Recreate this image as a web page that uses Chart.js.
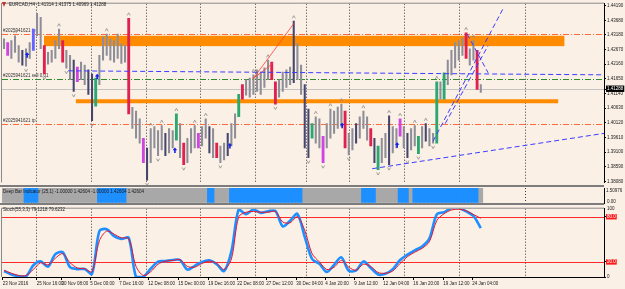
<!DOCTYPE html>
<html>
<head>
<meta charset="utf-8">
<title>EURCAD,H4</title>
<script src="https://cdn.jsdelivr.net/npm/chart.js@4.4.1/dist/chart.umd.min.js"></script>
<style>
  html, body { margin: 0; padding: 0; background: #faf0e6; }
  #wrap { position: relative; width: 625px; height: 289px; overflow: hidden; background: #faf0e6; }
  #wrap canvas { position: absolute; left: 0; }
  .txt { position: absolute; font: 4.5px "Liberation Sans", Arial, sans-serif; color: #1a1a1a; white-space: nowrap; line-height: 5px; }
  .sep { position: absolute; left: 0; width: 604px; height: 2px; background: #7c7c7c; }
  .ico { position: absolute; left: 2px; top: 2px; width: 0; height: 0; border-left: 2.5px solid transparent; border-right: 2.5px solid transparent; border-top: 5px solid #c83030; }
</style>
</head>
<body>
<div id="wrap">
  <canvas id="main" width="625" height="186" style="top:0"></canvas>
  <canvas id="deep" width="625" height="19" style="top:186px"></canvas>
  <canvas id="stoch" width="625" height="84" style="top:205px"></canvas>
  <div class="sep" style="top:185px"></div>
  <div class="sep" style="top:203px"></div>
  <div class="ico"></div>
  <div class="txt" style="left:9px;top:2px">EURCAD,H4&nbsp; 1.41314 1.41375 1.40969 1.41288</div>
  <div class="txt" style="left:3px;top:189px">Deep Bar Indicator (25,1) -1.00000 1.42604 -1.00000 1.42604 1.42604</div>
  <div class="txt" style="left:606px;top:188px">1.50976</div>
  <div class="txt" style="left:607px;top:199px">0.00</div>
  <div class="txt" style="left:3px;top:207px">Stoch(55,3,3) 79.1218 79.6232</div>
  <div class="txt" style="left:607px;top:206px">100</div>
</div>
<script>
/* ===============================
   DATA
================================ */
// one slot = two H4 bars
const timeLabels = ["23 Nov 2016", "25 Nov 16:00", "30 Nov 08:00", "5 Dec 00:00", "7 Dec 16:00", "12 Dec 08:00",
  "15 Dec 00:00", "19 Dec 16:00", "22 Dec 08:00", "27 Dec 12:00", "30 Dec 04:00", "4 Jan 20:00",
  "9 Jan 12:00", "12 Jan 04:00", "16 Jan 20:00", "19 Jan 12:00", "24 Jan 04:00"];
const timeSlots = [-0.35, 8.9, 15.7, 23.5, 31.4, 39.3, 47.5, 55.7, 63.6, 71.5, 79.7, 87.6, 95.5, 103.4, 111.6, 119.8, 127.7];
const gridSlots = [8.7, 23.7, 38.7, 53.5, 68.5, 82.4, 94.1, 109.1, 124.1, 142.1];

const priceTicks = [1.44190, 1.43680, 1.43180, 1.42670, 1.42160, 1.41650, 1.41140,
  1.40630, 1.40120, 1.39610, 1.39100, 1.38590, 1.38080];
const bidPrice = 1.41288;

const highs = [
  1.4304, 1.4291, 1.4298, 1.4315, 1.4281, 1.4264, 1.4270, 1.4291, 1.4338, 1.4393,
  1.4379, 1.4281, 1.4257, 1.4264, 1.4298, 1.4338, 1.4298, 1.4264, 1.4247, 1.4230,
  1.4206, 1.4223, 1.4213, 1.4196, 1.4182, 1.4168, 1.4247, 1.4311, 1.4321, 1.4304,
  1.4298, 1.4321, 1.4287, 1.4281, 1.4376, 1.4066, 1.4053, 1.4026, 1.3958, 1.3924,
  1.3992, 1.3999, 1.3985, 1.4002, 1.3975, 1.3992, 1.3985, 1.4043, 1.4009, 1.3941,
  1.3958, 1.3992, 1.4002, 1.3975, 1.3999, 1.4026, 1.3999, 1.3992, 1.3941, 1.3931,
  1.3941, 1.3975, 1.4009, 1.4043, 1.4111, 1.4145, 1.4162, 1.4168, 1.4179, 1.4196,
  1.4189, 1.4203, 1.4230, 1.4223, 1.4155, 1.4162, 1.4189, 1.4196, 1.4206, 1.4366,
  1.4288, 1.4213, 1.4145, 1.4060, 1.4009, 1.4033, 1.4026, 1.3965, 1.4009, 1.4060,
  1.4053, 1.4067, 1.4077, 1.4053, 1.3975, 1.3992, 1.4009, 1.4033, 1.4053, 1.4033,
  1.3992, 1.3958, 1.3931, 1.3958, 1.3975, 1.4036, 1.3999, 1.3992, 1.4026, 1.3999,
  1.3975, 1.3992, 1.4002, 1.3965, 1.3999, 1.4009, 1.3992, 1.3975, 1.4155, 1.4155,
  1.4186, 1.4230, 1.4264, 1.4291, 1.4298, 1.4308, 1.4325, 1.4270, 1.4298, 1.4264,
  1.4145];
const lows = [
  1.4270, 1.4247, 1.4236, 1.4257, 1.4223, 1.4213, 1.4209, 1.4236, 1.4264, 1.4315,
  1.4270, 1.4182, 1.4216, 1.4223, 1.4236, 1.4270, 1.4223, 1.4202, 1.4162, 1.4121,
  1.4155, 1.4162, 1.4145, 1.4111, 1.4019, 1.4070, 1.4145, 1.4230, 1.4247, 1.4230,
  1.4223, 1.4236, 1.4219, 1.4223, 1.4043, 1.3992, 1.3958, 1.3941, 1.3873, 1.3812,
  1.3873, 1.3924, 1.3897, 1.3917, 1.3897, 1.3907, 1.3924, 1.3951, 1.3890, 1.3866,
  1.3873, 1.3907, 1.3924, 1.3924, 1.3931, 1.3958, 1.3907, 1.3890, 1.3890, 1.3873,
  1.3883, 1.3897, 1.3931, 1.3958, 1.4033, 1.4094, 1.4108, 1.4101, 1.4111, 1.4121,
  1.4111, 1.4135, 1.4162, 1.4162, 1.4077, 1.4101, 1.4121, 1.4135, 1.4145, 1.4152,
  1.4162, 1.4111, 1.3924, 1.3890, 1.3958, 1.3941, 1.3924, 1.3873, 1.3924, 1.3958,
  1.3975, 1.3992, 1.3999, 1.3924, 1.3900, 1.3917, 1.3941, 1.3958, 1.3992, 1.3951,
  1.3931, 1.3873, 1.3849, 1.3873, 1.3890, 1.3866, 1.3907, 1.3924, 1.3965, 1.3924,
  1.3890, 1.3917, 1.3931, 1.3904, 1.3924, 1.3948, 1.3931, 1.3941, 1.3941, 1.4094,
  1.4094, 1.4145, 1.4179, 1.4203, 1.4230, 1.4247, 1.4236, 1.4213, 1.4230, 1.4128,
  1.4118];

// bar tone by slot: d dark, m magenta, r red, e green, b blue (others gray)
const barTone = {1: "m", 5: "d", 8: "b", 11: "r", 16: "r", 19: "d", 20: "m", 23: "d", 24: "d", 25: "e",
  34: "r", 38: "m", 39: "d", 44: "d", 47: "e", 49: "r", 53: "m", 56: "d", 58: "r", 61: "d",
  64: "e", 65: "r", 73: "r", 74: "r", 79: "d", 82: "d", 83: "d", 84: "e", 87: "m", 93: "r",
  96: "d", 100: "r", 101: "d", 102: "e", 105: "d", 108: "m", 110: "d", 113: "e", 115: "d",
  118: "e", 120: "e", 126: "r", 129: "r"};

const upFractals = [3, 15, 28, 34, 40, 43, 47, 52, 55, 68, 72, 79, 85, 89, 92, 98, 105, 108, 112, 115, 118, 126, 128];
const downFractals = [6, 11, 17, 19, 24, 39, 42, 49, 59, 74, 83, 87, 94, 102, 105, 110, 113, 117];
const buyArrows = [[6.3, 1.4247], [25.4, 1.4172], [46.6, 1.3915], [61.6, 1.3931], [92.2, 1.4002], [107.2, 1.3934]];

const levelPrices = [1.4321, 1.4165, 1.4009];
const levelNames = ["#2025941621 tp", "#2025941621 sell 0.01", "#2025941621 tp"];
const zoneSlots = [[10.9, 152.8], [19.6, 151.1]];
const zonePrices = [[1.4279, 1.4315], [1.4080, 1.4094]];

const blueLines = [
  [[17.5, 1.4193], [163.6, 1.4179]],
  [[100.4, 1.3852], [163.6, 1.3975]],
  [[117.0, 1.3948], [136.1, 1.4410]],
  [[120.3, 1.4009], [132.0, 1.4281]],
  [[126.3, 1.4321], [132.0, 1.4186]]
];
const redLines = [
  [[67.9, 1.4165], [79.1, 1.4359]],
  [[67.9, 1.4165], [73.4, 1.4220]]
];

// Deep Bar Indicator: 1 = blue, 0 = gray
const deepState = [
  0, 0, 0, 0, 0, 0, 1, 1, 1, 1,
  0, 0, 0, 0, 0, 0, 0, 0, 0, 0, 0, 0, 0, 0, 0, 0,
  1, 1, 1, 1, 1, 1, 1, 1,
  0, 0, 0, 0, 0, 0, 0, 0, 0, 0, 0, 0, 0, 0, 0, 0, 0, 0, 0, 0, 0, 0,
  1, 1, 0, 0, 0, 0,
  1, 1, 1, 1, 1, 1, 1, 1, 1, 1, 1, 1, 1, 1, 1, 1, 1, 1, 1, 1,
  0, 0, 0, 0, 0, 0, 0, 0, 0, 0, 0, 0, 0, 0, 0, 0,
  1, 1, 1, 1, 0, 0, 0, 0, 0, 0, 1, 1, 1, 0,
  1, 1, 1, 1, 1, 1, 1, 1, 1, 1, 1, 1, 1, 1, 1, 1, 1, 1,
  0];
const deepLevel = 1.50976;

// Stoch(55,3,3), one reading every 2 slots
const stochStep = 2;
const stochMain = [7.9, 3.4, 1.1, 0.9, 15.6, 20.7, 13.7, 30.3, 32.8, 13.0,
  10.5, 10.5, 4.3, 61.0, 63.5, 54.2, 50.4, 52.0, 0, 0.3,
  11.1, 20.4, 21.1, 22.6, 22.6, 9.8, 14.9, 20.1, 22.2, 16.9,
  7.9, 34.0, 90.0, 83.5, 89.7, 85.2, 87.4, 87.7, 67.3, 74.6,
  83.9, 53.3, 23.9, 17.5, 6.6, 16.2, 26.1, 8.3, 8.6, 20.7,
  12.0, 3.4, 4.3, 10.5, 22.6, 29.6, 35.4, 40.5, 51.3, 83.3,
  86.1, 91.6, 91.6, 87.1, 81.1, 64.8];
const stochSignal = [9, 5, 2, 2, 10, 19, 16, 25, 31, 19,
  12, 11, 7, 48, 61, 57, 52, 51, 14, 2,
  7, 17, 21, 22, 23, 14, 13, 18, 21, 18,
  10, 24, 80, 86, 87, 86, 86, 87, 73, 72,
  80, 62, 31, 20, 10, 13, 22, 13, 9, 17,
  14, 6, 5, 8, 18, 27, 33, 38, 47, 75,
  84, 89, 90, 88, 83, 78];
const stochTicks = [0, 20, 80];
const stochLevels = [20, 80];

/* ===============================
   SHARED SETTINGS
================================ */
Chart.defaults.font.family = '"Liberation Sans", Arial, sans-serif';
const tickFont = { size: 4.5 };
const X_MIN = -0.55, X_MAX = 163.6;
const toneColor = { g: "#8e8e98", d: "#45456e", m: "#cf45e0", r: "#e0204e", e: "#2aa870", b: "#6464ff" };

// same time scale in every window (bar charts would add an offset otherwise)
function hiddenX() {
  return { type: "linear", min: X_MIN, max: X_MAX, offset: false, display: false };
}

function dotGrid(chart) {
  const { ctx, chartArea: a, scales: { x } } = chart;
  ctx.save();
  ctx.strokeStyle = "#3a3a3a";
  ctx.lineWidth = 1;
  ctx.setLineDash([1, 2]);
  gridSlots.forEach(s => {
    const px = Math.round(x.getPixelForValue(s)) + 0.5;
    ctx.beginPath();
    ctx.moveTo(px, a.top);
    ctx.lineTo(px, a.bottom);
    ctx.stroke();
  });
  ctx.restore();
}

function frame(chart) {
  const { ctx, chartArea: a } = chart;
  ctx.save();
  ctx.strokeStyle = "#8a8a8a";
  ctx.lineWidth = 1;
  ctx.beginPath();
  ctx.moveTo(a.left - 0.5, a.bottom);
  ctx.lineTo(a.left - 0.5, a.top - 0.5);
  ctx.lineTo(a.right, a.top - 0.5);
  ctx.stroke();
  ctx.restore();
}

/* ===============================
   MAIN PRICE WINDOW
================================ */
const mainDecor = {
  id: "mainDecor",
  beforeDatasetsDraw(chart) {
    const { ctx, chartArea: a, scales: { x, y } } = chart;
    dotGrid(chart);
    ctx.save();
    // orange zones
    ctx.fillStyle = "#ff8c00";
    zoneSlots.forEach((s, i) => {
      const x0 = x.getPixelForValue(s[0]), x1 = x.getPixelForValue(s[1]);
      const y0 = y.getPixelForValue(zonePrices[i][1]), y1 = y.getPixelForValue(zonePrices[i][0]);
      ctx.fillRect(x0, y0, x1 - x0, y1 - y0);
    });
    // bid line
    ctx.strokeStyle = "#c4c4c4";
    ctx.lineWidth = 1;
    let py = Math.round(y.getPixelForValue(bidPrice)) + 0.5;
    ctx.beginPath(); ctx.moveTo(a.left, py); ctx.lineTo(a.right, py); ctx.stroke();
    // order levels
    const lvlColor = ["#ff6a3d", "#2e8b2e", "#ff6a3d"];
    ctx.setLineDash([6, 2, 1, 2]);
    ctx.font = '4.5px "Liberation Sans", Arial, sans-serif';
    ctx.textBaseline = "bottom";
    levelPrices.forEach((p, i) => {
      py = Math.round(y.getPixelForValue(p)) + 0.5;
      ctx.strokeStyle = lvlColor[i];
      ctx.beginPath(); ctx.moveTo(a.left, py); ctx.lineTo(a.right, py); ctx.stroke();
      ctx.fillStyle = "#333";
      ctx.fillText(levelNames[i], a.left + 1, py - 1);
    });
    ctx.restore();
  },
  afterDatasetsDraw(chart) {
    const { ctx, scales: { x, y } } = chart;
    ctx.save();
    // fractal marks
    ctx.strokeStyle = "#8c8c8c";
    ctx.lineWidth = 0.8;
    upFractals.forEach(s => {
      const px = x.getPixelForValue(s), py = y.getPixelForValue(highs[s]) - 4;
      ctx.beginPath(); ctx.moveTo(px - 1.5, py + 1.2); ctx.lineTo(px, py - 1.5); ctx.lineTo(px + 1.5, py + 1.2); ctx.stroke();
    });
    downFractals.forEach(s => {
      const px = x.getPixelForValue(s), py = y.getPixelForValue(lows[s]) + 4;
      ctx.beginPath(); ctx.moveTo(px - 1.5, py - 1.2); ctx.lineTo(px, py + 1.5); ctx.lineTo(px + 1.5, py - 1.2); ctx.stroke();
    });
    // buy arrows
    ctx.fillStyle = "#1020e8";
    buyArrows.forEach(([s, p]) => {
      const px = x.getPixelForValue(s), py = y.getPixelForValue(p) - 3;
      ctx.beginPath();
      ctx.moveTo(px, py); ctx.lineTo(px - 2.3, py + 2.6); ctx.lineTo(px - 0.8, py + 2.6);
      ctx.lineTo(px - 0.8, py + 5.5); ctx.lineTo(px + 0.8, py + 5.5); ctx.lineTo(px + 0.8, py + 2.6);
      ctx.lineTo(px + 2.3, py + 2.6); ctx.closePath(); ctx.fill();
    });
    ctx.restore();
    frame(chart);
  }
};

const plainBars = [], markedBars = [];
highs.forEach((h, i) => {
  const pt = { x: i, y: [lows[i], h] };
  const t = barTone[i];
  if (t && t !== "d") markedBars.push(pt); else plainBars.push(pt);
});

const lineSets = [];
blueLines.forEach(l => lineSets.push({
  type: "line", data: l.map(p => ({ x: p[0], y: p[1] })), borderColor: "#3c3cff",
  borderWidth: 1, borderDash: [5, 3], pointRadius: 0, tension: 0, order: 0
}));
redLines.forEach(l => lineSets.push({
  type: "line", data: l.map(p => ({ x: p[0], y: p[1] })), borderColor: "#ff3b3b",
  borderWidth: 0.8, pointRadius: 0, tension: 0, order: 0
}));

new Chart(document.getElementById("main"), {
  type: "bar",
  data: {
    datasets: lineSets.concat([
      {
        data: plainBars, grouped: false, barThickness: 1.4, order: 2,
        backgroundColor: c => toneColor[barTone[c.raw ? c.raw.x : 0] === "d" ? "d" : "g"]
      },
      {
        data: markedBars, grouped: false, barThickness: 2.2, order: 1,
        backgroundColor: c => toneColor[barTone[c.raw ? c.raw.x : 1]]
      }
    ])
  },
  options: {
    responsive: false, animation: false, events: [],
    layout: { padding: { left: 2, top: 2, right: 0, bottom: 1 } },
    plugins: { legend: { display: false }, tooltip: { enabled: false } },
    scales: {
      x: hiddenX(),
      y: {
        position: "right", min: 1.38046, max: 1.44268,
        afterBuildTicks: s => { s.ticks = priceTicks.concat([bidPrice]).map(v => ({ value: v })); },
        afterFit: s => { s.width = 21; },
        ticks: {
          font: tickFont, padding: 1,
          callback: v => v.toFixed(5),
          color: c => c.tick.value === bidPrice ? "#fff" : "#1a1a1a",
          showLabelBackdrop: true,
          backdropColor: c => c.tick.value === bidPrice ? "#000" : "rgba(0,0,0,0)",
          backdropPadding: { top: 1, bottom: 0, left: 1, right: 1 }
        },
        grid: { drawOnChartArea: false, tickLength: 2, color: "#000" },
        border: { color: "#000" }
      }
    }
  },
  plugins: [mainDecor]
});

/* ===============================
   DEEP BAR INDICATOR STRIP
================================ */
new Chart(document.getElementById("deep"), {
  type: "bar",
  data: {
    datasets: [{
      data: deepState.map((s, i) => ({ x: i, y: deepLevel })),
      backgroundColor: deepState.map(s => s ? "#1e8fff" : "#a8a8a8"),
      barThickness: 4
    }]
  },
  options: {
    responsive: false, animation: false, events: [],
    layout: { padding: { left: 2, top: 2, right: 0, bottom: 2 } },
    plugins: { legend: { display: false }, tooltip: { enabled: false } },
    scales: {
      x: hiddenX(),
      y: {
        position: "right", min: 0, max: deepLevel,
        afterFit: s => { s.width = 21; },
        ticks: { display: false },
        grid: { drawOnChartArea: false, drawTicks: false },
        border: { color: "#000" }
      }
    }
  },
  plugins: [{ id: "deepDecor", beforeDatasetsDraw: dotGrid }]
});

/* ===============================
   STOCHASTIC WINDOW
================================ */
const stochDecor = {
  id: "stochDecor",
  beforeDatasetsDraw(chart) {
    const { ctx, chartArea: a, scales: { y } } = chart;
    dotGrid(chart);
    ctx.save();
    ctx.strokeStyle = "#ff2a2a";
    ctx.lineWidth = 1;
    stochLevels.forEach(v => {
      const py = Math.round(y.getPixelForValue(v)) + 0.5;
      ctx.beginPath(); ctx.moveTo(a.left, py); ctx.lineTo(a.right, py); ctx.stroke();
    });
    ctx.restore();
  },
  afterDatasetsDraw: frame
};

new Chart(document.getElementById("stoch"), {
  type: "line",
  data: {
    datasets: [
      {
        data: stochSignal.map((v, i) => ({ x: i * stochStep, y: v })),
        borderColor: "#e8132e", borderWidth: 1, pointRadius: 0, tension: 0.3, order: 0
      },
      {
        data: stochMain.map((v, i) => ({ x: i * stochStep, y: v })),
        borderColor: "#1e8fff", borderWidth: 2.6, pointRadius: 0, tension: 0.3, order: 1
      }
    ]
  },
  options: {
    responsive: false, animation: false, events: [],
    layout: { padding: { left: 2, top: 1, right: 0, bottom: 0 } },
    plugins: { legend: { display: false }, tooltip: { enabled: false } },
    scales: {
      x: {
        type: "linear", min: X_MIN, max: X_MAX, offset: false, position: "bottom",
        afterBuildTicks: s => { s.ticks = timeSlots.map(v => ({ value: v })); },
        afterFit: s => { s.height = 12; },
        ticks: {
          autoSkip: false, maxRotation: 0, align: "start", font: tickFont, color: "#1a1a1a", padding: 1,
          callback: (v, i) => timeLabels[i]
        },
        grid: { drawOnChartArea: false, tickLength: 3, color: "#000" },
        border: { color: "#000" }
      },
      y: {
        position: "right", min: 0, max: 90.7,
        afterBuildTicks: s => { s.ticks = stochTicks.map(v => ({ value: v })); },
        afterFit: s => { s.width = 21; },
        ticks: {
          font: tickFont, padding: 1,
          callback: v => stochLevels.includes(v) ? v.toFixed(1) : String(v),
          color: c => stochLevels.includes(c.tick.value) ? "#fff" : "#1a1a1a",
          showLabelBackdrop: true,
          backdropColor: c => stochLevels.includes(c.tick.value) ? "#ff1a1a" : "rgba(0,0,0,0)",
          backdropPadding: { top: 0, bottom: 0, left: 1, right: 1 }
        },
        grid: { drawOnChartArea: false, tickLength: 2, color: "#000" },
        border: { color: "#000" }
      }
    }
  },
  plugins: [stochDecor]
});
</script>
</body>
</html>
